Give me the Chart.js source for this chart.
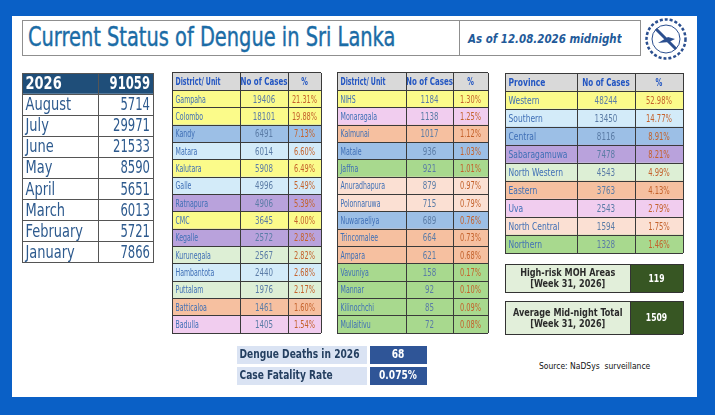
<!DOCTYPE html>
<html>
<head>
<meta charset="utf-8">
<title>Current Status of Dengue in Sri Lanka</title>
<script src="https://cdn.jsdelivr.net/npm/chart.js@4.4.1/dist/chart.umd.min.js"></script>
<style>
  body { margin:0; width:715px; height:415px; background:#0a60c6; overflow:hidden; position:relative;
         font-family:"Liberation Sans Narrow","DejaVu Sans Condensed",sans-serif; }
  #panel { position:absolute; left:12px; top:16px; width:685px; height:381px; background:#fff; }
  .frame { position:absolute; border:1px solid #8f8f8f; box-sizing:border-box; }
  #title { left:22px; top:20px; width:438px; height:36px; }
  #title span { position:absolute; left:5px; top:1px; font-size:26px; color:#1b6ca6; white-space:nowrap;
                -webkit-text-stroke:0.4px #1b6ca6; transform:scaleX(0.83); transform-origin:left top; }
  #asof { left:459px; top:20px; width:182px; height:36px; }
  #asof span { position:absolute; left:8px; top:10px; font-style:italic; font-weight:bold; font-size:13px;
               color:#1f5a99; white-space:nowrap; transform:scaleX(0.88); transform-origin:left top; }
  #logo { position:absolute; left:644px; top:17px; }
  canvas { position:absolute; }
  #source { position:absolute; left:539px; top:361px; font-size:9px; color:#111; white-space:nowrap;
            transform:scaleX(0.94); transform-origin:left top; }
</style>
</head>
<body>
<div id="panel"></div>
<div class="frame" id="title"><span>Current Status of Dengue in Sri Lanka</span></div>
<div class="frame" id="asof"><span>As of 12.08.2026 midnight</span></div>
<svg id="logo" width="44" height="44" viewBox="0 0 44 44">
  <circle cx="22" cy="22" r="19.5" fill="#fff" stroke="#2b4f8f" stroke-width="2.5" stroke-dasharray="3 2"/>
  <circle cx="22" cy="22" r="14" fill="none" stroke="#2b4f8f" stroke-width="1"/>
  <line x1="12" y1="12" x2="32" y2="32" stroke="#2b4f8f" stroke-width="3"/>
  <path d="M14 26 L24 20 L31 22 L25 25 Z" fill="#2b4f8f"/>
</svg>
<canvas id="months"></canvas>
<canvas id="distA"></canvas>
<canvas id="distB"></canvas>
<canvas id="prov"></canvas>
<canvas id="moh1"></canvas>
<canvas id="moh2"></canvas>
<canvas id="deaths"></canvas>
<div id="source">Source: NaDSys &nbsp;surveillance</div>

<script>
// ---- data ----
const yearLabel = '2026';
const yearTotal = 91059;
const months = ['August', 'July', 'June', 'May', 'April', 'March', 'February', 'January'];
const monthCases = [5714, 29971, 21533, 8590, 5651, 6013, 5721, 7866];

const districtsA = ['Gampaha', 'Colombo', 'Kandy', 'Matara', 'Kalutara', 'Galle', 'Ratnapura', 'CMC',
    'Kegalle', 'Kurunegala', 'Hambantota', 'Puttalam', 'Batticaloa', 'Badulla'];
const casesA = [19406, 18101, 6491, 6014, 5908, 4996, 4906, 3645, 2572, 2567, 2440, 1976, 1461, 1405];
const pctA = [21.31, 19.88, 7.13, 6.60, 6.49, 5.49, 5.39, 4.00, 2.82, 2.82, 2.68, 2.17, 1.60, 1.54];
const provOfA = ['Western', 'Western', 'Central', 'Southern', 'Western', 'Southern', 'Sabaragamuwa', 'Western',
    'Sabaragamuwa', 'North Western', 'Southern', 'North Western', 'Eastern', 'Uva'];

const districtsB = ['NIHS', 'Monaragala', 'Kalmunai', 'Matale', 'Jaffna', 'Anuradhapura', 'Polonnaruwa',
    'Nuwaraeliya', 'Trincomalee', 'Ampara', 'Vavuniya', 'Mannar', 'Kilinochchi', 'Mullaitivu'];
const casesB = [1184, 1138, 1017, 936, 921, 879, 715, 689, 664, 621, 158, 92, 85, 72];
const pctB = [1.30, 1.25, 1.12, 1.03, 1.01, 0.97, 0.79, 0.76, 0.73, 0.68, 0.17, 0.10, 0.09, 0.08];
const provOfB = ['Western', 'Uva', 'Eastern', 'Central', 'Northern', 'North Central', 'North Central',
    'Central', 'Eastern', 'Eastern', 'Northern', 'Northern', 'Northern', 'Northern'];

const provinces = ['Western', 'Southern', 'Central', 'Sabaragamuwa', 'North Western', 'Eastern', 'Uva',
    'North Central', 'Northern'];
const provCases = [48244, 13450, 8116, 7478, 4543, 3763, 2543, 1594, 1328];
const provPct = [52.98, 14.77, 8.91, 8.21, 4.99, 4.13, 2.79, 1.75, 1.46];

const mohLabels = ['High-risk MOH Areas\n[Week 31, 2026]', 'Average Mid-night Total\n[Week 31, 2026]'];
const mohValues = [119, 1509];

const deathLabels = ['Dengue Deaths in 2026', 'Case Fatality Rate'];
const deathValues = ['68', '0.075%'];

// ---- styles ----
const NARROW = '"Liberation Sans Narrow","DejaVu Sans Condensed",sans-serif';
const provinceColors = {
    'Western': '#fbfb8a', 'Southern': '#d3ebf9', 'Central': '#9cbfe6', 'Sabaragamuwa': '#b9a2dc',
    'North Western': '#ddefd5', 'Eastern': '#f6c0a0', 'Uva': '#f1cdef', 'North Central': '#fbe0d3',
    'Northern': '#a8d98e'
};
const hdrBg = '#d9d9d9';
const hdrColor = '#2356c2';
const nameColor = '#3f6fb6';
const numColor = '#5b7ca6';
const pctColor = '#c4622c';

// draws the text of each cell on top of its bar (sx squeezes the glyphs sideways)
const cellText = {
    id: 'cellText',
    afterDatasetsDraw(chart) {
        const ctx = chart.ctx;
        chart.data.datasets.forEach((ds, ci) => {
            const meta = chart.getDatasetMeta(ci);
            meta.data.forEach((bar, ri) => {
                const pick = v => Array.isArray(v) ? v[ri] : v;
                const left = Math.min(bar.x, bar.base), right = Math.max(bar.x, bar.base);
                const align = pick(ds.align) || 'center';
                const lines = String(ds.texts[ri]).split('\n');
                const lh = pick(ds.lineHeight) || 12;
                const sx = pick(ds.sx) || 1;
                let tx = (left + right) / 2;
                if (align === 'left') tx = left + 3;
                if (align === 'right') tx = right - 3;
                ctx.save();
                ctx.font = pick(ds.fonts);
                ctx.fillStyle = pick(ds.colors);
                ctx.textBaseline = 'middle';
                ctx.textAlign = align;
                lines.forEach((ln, k) => {
                    ctx.save();
                    ctx.translate(tx, bar.y + (k - (lines.length - 1) / 2) * lh + 1);
                    ctx.scale(sx, 1);
                    ctx.fillText(ln, 0, 0);
                    ctx.restore();
                });
                ctx.restore();
            });
        });
    }
};

// a table as a horizontal floating-bar chart: one dataset per column, one category per row
function makeTable(id, box, widths, columns, line) {
    const canvas = document.getElementById(id);
    canvas.width = box.w + 2;
    canvas.height = box.h + 2;
    canvas.style.left = (box.x - 1) + 'px';
    canvas.style.top = (box.y - 1) + 'px';
    const bounds = [0];
    widths.forEach(w => bounds.push(bounds[bounds.length - 1] + w));
    const total = bounds[bounds.length - 1];
    const rowLabels = columns[0].texts.map((t, i) => i + ':' + t);

    new Chart(canvas, {
        type: 'bar',
        data: {
            labels: rowLabels,
            datasets: columns.map((col, ci) => Object.assign({
                data: col.texts.map(() => [bounds[ci], bounds[ci + 1]]),
                backgroundColor: col.bgs,
                borderWidth: 0,
                grouped: false,
                barPercentage: 1,
                categoryPercentage: 1
            }, col))
        },
        options: {
            responsive: false,
            animation: false,
            devicePixelRatio: 1,
            indexAxis: 'y',
            layout: { padding: 1 },
            plugins: { legend: { display: false }, tooltip: { enabled: false } },
            scales: {
                x: {
                    type: 'linear', min: 0, max: total,
                    afterBuildTicks: s => { s.ticks = bounds.map(v => ({ value: v })); },
                    ticks: { display: false },
                    grid: { color: line.color, lineWidth: line.width, drawTicks: false, z: 1 },
                    border: { display: false }
                },
                y: {
                    type: 'category',
                    ticks: { display: false },
                    grid: { offset: true, color: line.color, lineWidth: line.width, drawTicks: false, z: 1 },
                    border: { display: false }
                }
            }
        },
        plugins: [cellText]
    });
}

const fmtPct = v => v.toFixed(2) + '%';

// months
makeTable('months', { x: 22, y: 73, w: 131, h: 190 }, [76, 55], [
    {
        texts: [yearLabel, ...months],
        bgs: ['#1f4e79', ...months.map(() => '#ffffff')],
        colors: ['#ffffff', ...months.map(() => '#2d5a8e')],
        fonts: ['bold 17px ' + NARROW, ...months.map(() => '17px ' + NARROW)],
        align: 'left', sx: 0.85
    },
    {
        texts: [yearTotal, ...monthCases],
        bgs: ['#1f4e79', ...months.map(() => '#ffffff')],
        colors: ['#ffffff', ...months.map(() => '#2d5a8e')],
        fonts: ['bold 17px ' + NARROW, ...months.map(() => '17px ' + NARROW)],
        align: 'right', sx: 0.76
    }
], { color: '#555555', width: 1 });

function districtColumns(names, cases, pct, provs, firstHeader, size, sx) {
    const body = size + 'px ' + NARROW;
    const head = 'bold ' + size + 'px ' + NARROW;
    const bgs = [hdrBg, ...provs.map(p => provinceColors[p])];
    return [
        { texts: [firstHeader, ...names], bgs, colors: [hdrColor, ...names.map(() => nameColor)],
          fonts: [head, ...names.map(() => body)], align: 'left', sx: sx[0] },
        { texts: ['No of Cases', ...cases], bgs, colors: [hdrColor, ...cases.map(() => numColor)],
          fonts: [head, ...cases.map(() => body)], align: 'center', sx: sx[1] },
        { texts: ['%', ...pct.map(fmtPct)], bgs, colors: [hdrColor, ...pct.map(() => pctColor)],
          fonts: [head, ...pct.map(() => body)], align: 'center', sx: sx[2] }
    ];
}

makeTable('distA', { x: 172, y: 73, w: 149, h: 260 }, [68, 48, 33],
    districtColumns(districtsA, casesA, pctA, provOfA, 'District/ Unit', 10.5, [0.66, 0.75, 0.7]),
    { color: '#3a3a3a', width: 1 });
makeTable('distB', { x: 337, y: 73, w: 151, h: 260 }, [69, 47, 35],
    districtColumns(districtsB, casesB, pctB, provOfB, 'District/ Unit', 10.5, [0.66, 0.75, 0.7]),
    { color: '#3a3a3a', width: 1 });
makeTable('prov', { x: 505, y: 73, w: 178, h: 180 }, [72, 58, 48],
    districtColumns(provinces, provCases, provPct, provinces, 'Province', 10.5, [0.8, 0.76, 0.72]),
    { color: '#3a3a3a', width: 1 });

// MOH boxes
[['moh1', 264, 28], ['moh2', 301, 33]].forEach(([id, y, h], i) => {
    makeTable(id, { x: 505, y, w: 178, h }, [125, 53], [
        { texts: [mohLabels[i]], bgs: ['#e2efda'], colors: ['#2b2b2b'], fonts: 'bold 10.5px ' + NARROW,
          align: 'center', lineHeight: 11, sx: 0.86 },
        { texts: [mohValues[i]], bgs: ['#375623'], colors: ['#ffffff'], fonts: 'bold 10px ' + NARROW,
          align: 'center', sx: 0.85 }
    ], { color: '#333333', width: 1 });
});

// deaths
makeTable('deaths', { x: 235, y: 344, w: 193, h: 42 }, [133, 60], [
    { texts: deathLabels, bgs: ['#dae3f3', '#dae3f3'], colors: '#243f60', fonts: 'bold 11.5px ' + NARROW,
      align: 'left', sx: 0.88 },
    { texts: deathValues, bgs: ['#2f5597', '#2f5597'], colors: '#ffffff', fonts: 'bold 11.5px ' + NARROW,
      align: 'center', sx: 0.88 }
], { color: '#ffffff', width: 3 });
</script>
</body>
</html>
